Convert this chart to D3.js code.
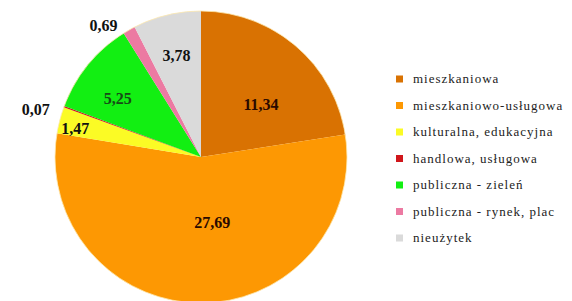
<!DOCTYPE html>
<html>
<head>
<meta charset="utf-8">
<script src="https://cdn.jsdelivr.net/npm/d3@7"></script>
<style>
  body { margin: 0; background: #fff; }
  svg { display: block; }
</style>
</head>
<body>
<svg id="chart" width="572" height="301"></svg>
<script>
// categories + values (clockwise from 12 o'clock)
var categories = ["mieszkaniowa", "mieszkaniowo-usługowa", "kulturalna, edukacyjna",
  "handlowa, usługowa", "publiczna - zieleń", "publiczna - rynek, plac", "nieużytek"];
var values = [11.34, 27.69, 1.47, 0.07, 5.25, 0.69, 3.78];
var colors = ["#d97202", "#fd9803", "#fbfb25", "#d0161b", "#12ef12", "#ec7aa2", "#dadada"];
var labelColors = ["#2a0a00", "#2a0a00", "#111", "#111", "#174a17", "#111", "#111"];
// label placement: distance from centre and a small turn (deg) off the slice middle
var labelRadius = [80, 66, 129, 172, 102, 164, 105];
var labelTurn = [8, -10, -2, -4, -4, -7, 0];

var svg = d3.select("#chart"),
    cx = 201, cy = 157, r = 146;

var pie = d3.pie().sort(null).value(function(d) { return d; });
var arcs = pie(values);
var arc = d3.arc().innerRadius(0).outerRadius(r);

var g = svg.append("g").attr("transform", "translate(" + cx + "," + cy + ")");

g.selectAll("path.slice")
  .data(arcs)
  .enter().append("path")
  .attr("class", "slice")
  .attr("d", arc)
  .attr("fill", function(d, i) { return colors[i]; });

// faint rim
g.append("circle").attr("r", r).attr("fill", "none")
  .attr("stroke", "#fde8b0").attr("stroke-width", 0.8);

var fmt = function(v) { return v.toFixed(2).replace(".", ","); };

g.selectAll("text.val")
  .data(arcs)
  .enter().append("text")
  .attr("class", "val")
  .attr("transform", function(d, i) {
    var a = (d.startAngle + d.endAngle) / 2 + labelTurn[i] * Math.PI / 180;
    var lr = labelRadius[i];
    return "translate(" + (Math.sin(a) * lr) + "," + (-Math.cos(a) * lr) + ")";
  })
  .attr("text-anchor", "middle")
  .attr("dy", "0.35em")
  .attr("font-family", "'Liberation Serif', 'DejaVu Serif', serif")
  .attr("font-weight", "bold")
  .attr("font-size", 16)
  .attr("fill", function(d, i) { return labelColors[i]; })
  .text(function(d) { return fmt(d.data); });

// legend
var legendY = d3.scalePoint().domain(categories).range([79, 238]);
var leg = svg.append("g").selectAll("g")
  .data(categories)
  .enter().append("g")
  .attr("transform", function(d) { return "translate(396," + legendY(d) + ")"; });

leg.append("rect")
  .attr("x", 0).attr("y", -3.5)
  .attr("width", 7).attr("height", 7)
  .attr("fill", function(d, i) { return colors[i]; });

leg.append("text")
  .attr("x", 17)
  .attr("dy", "0.32em")
  .attr("font-family", "'Liberation Serif', serif")
  .attr("font-size", 13)
  .attr("letter-spacing", 1)
  .attr("fill", "#222")
  .text(function(d) { return d; });
</script>
</body>
</html>
